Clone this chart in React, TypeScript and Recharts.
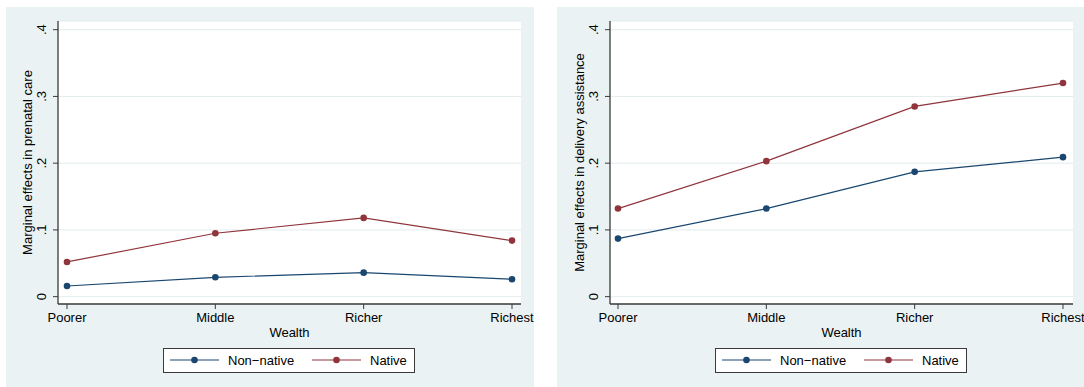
import { LineChart, Line, XAxis, YAxis, CartesianGrid } from 'recharts'

const categories = ['Poorer', 'Middle', 'Richer', 'Richest']
const seriesNames = ['Non−native', 'Native']
const yTicks = [0, 0.1, 0.2, 0.3, 0.4]

const prenatalNonNative = [0.016, 0.029, 0.036, 0.026]
const prenatalNative = [0.052, 0.095, 0.118, 0.084]
const deliveryNonNative = [0.087, 0.132, 0.187, 0.209]
const deliveryNative = [0.132, 0.203, 0.285, 0.32]

const NAVY = '#1a476f'
const MAROON = '#90353b'
const BG = '#eaf2f3'
const AXIS = '#3a3a3a'
const FONT = 'Arial, "Liberation Sans", sans-serif'

const fmtTick = (v: number) => (v === 0 ? '0' : String(v).replace(/^0/, ''))

function YTick({ x, y, payload }: any) {
  const cx = x - 11
  return (
    <text x={cx} y={y} transform={`rotate(-90 ${cx} ${y})`} textAnchor="middle"
      dominantBaseline="central" fontSize={13} fill="#000" fontFamily={FONT}>
      {fmtTick(payload.value)}
    </text>
  )
}

function YTitle({ viewBox, text }: any) {
  if (!viewBox) return null
  const x = viewBox.x + viewBox.width - 31
  const y = viewBox.y + viewBox.height / 2
  return (
    <text x={x} y={y} transform={`rotate(-90 ${x} ${y})`} textAnchor="middle"
      dominantBaseline="central" fontSize={13} fill="#000" fontFamily={FONT}>
      {text}
    </text>
  )
}

function XTitle({ viewBox }: any) {
  if (!viewBox) return null
  return (
    <text x={viewBox.x + viewBox.width / 2} y={viewBox.y + 33} textAnchor="middle"
      fontSize={13} fill="#000" fontFamily={FONT}>
      Wealth
    </text>
  )
}

function LegendBox({ left }: { left: number }) {
  const colors = [NAVY, MAROON]
  const offsets = [6, 148]
  return (
    <div style={{
      position: 'absolute', left, top: 348, width: 252, height: 25,
      border: `1px solid ${AXIS}`, boxSizing: 'border-box', background: '#fff',
    }}>
      <svg width={250} height={23} style={{ display: 'block' }}>
        {seriesNames.map((name, i) => (
          <g key={name}>
            <line x1={offsets[i]} x2={offsets[i] + 49} y1={11} y2={11} stroke={colors[i]} strokeWidth={1.2} />
            <circle cx={offsets[i] + 24.5} cy={11} r={3.3} fill={colors[i]} />
            <text x={offsets[i] + 58} y={16} fontSize={13} fill="#000" fontFamily={FONT}>{name}</text>
          </g>
        ))}
      </svg>
    </div>
  )
}

interface PanelProps {
  left: number
  width: number
  plotLeft: number
  marginRight: number
  pad: { left: number; right: number }
  yTitle: string
  nonNative: number[]
  native: number[]
  legendLeft: number
}

function Panel(p: PanelProps) {
  const rows = categories.map((c, i) => ({ cat: c, nonNative: p.nonNative[i], native: p.native[i] }))
  return (
    <>
      <div style={{ position: 'absolute', left: p.left, top: 7, width: p.width, height: 380, background: BG }}>
        <LineChart width={p.width} height={380} data={rows}
          margin={{ top: 14, right: p.marginRight, bottom: 53, left: 0 }}>
          <CartesianGrid horizontal vertical={false} stroke="#e3ecee" fill="#fff" />
          <XAxis dataKey="cat" interval={0} padding={p.pad} height={30}
            axisLine={{ stroke: AXIS, strokeWidth: 1.3 }} tickLine={{ stroke: AXIS }}
            tickSize={5} tickMargin={4}
            tick={{ fontSize: 13, fill: '#000', fontFamily: FONT }}
            label={<XTitle />} />
          <YAxis width={p.plotLeft} domain={[-0.011, 0.413]} ticks={yTicks} allowDataOverflow
            axisLine={{ stroke: AXIS, strokeWidth: 1.3 }} tickLine={{ stroke: AXIS }}
            tickSize={5} tickMargin={0} tick={<YTick />}
            label={<YTitle text={p.yTitle} />} />
          <Line type="linear" dataKey="nonNative" stroke={NAVY} strokeWidth={1.2}
            dot={{ r: 3.3, fill: NAVY, stroke: NAVY, strokeWidth: 0 }} activeDot={false}
            isAnimationActive={false} />
          <Line type="linear" dataKey="native" stroke={MAROON} strokeWidth={1.2}
            dot={{ r: 3.3, fill: MAROON, stroke: MAROON, strokeWidth: 0 }} activeDot={false}
            isAnimationActive={false} />
        </LineChart>
      </div>
      <LegendBox left={p.legendLeft} />
    </>
  )
}

export default function App() {
  return (
    <div style={{ position: 'absolute', left: 0, top: 0, width: 1084, height: 387, background: '#fff', overflow: 'hidden' }}>
      <Panel left={6} width={528} plotLeft={52} marginRight={13} pad={{ left: 9, right: 9 }}
        yTitle="Marginal effects in prenatal care" nonNative={prenatalNonNative} native={prenatalNative}
        legendLeft={163} />
      <Panel left={557} width={527} plotLeft={53} marginRight={11} pad={{ left: 8, right: 10 }}
        yTitle="Marginal effects in delivery assistance" nonNative={deliveryNonNative} native={deliveryNative}
        legendLeft={715} />
    </div>
  )
}
